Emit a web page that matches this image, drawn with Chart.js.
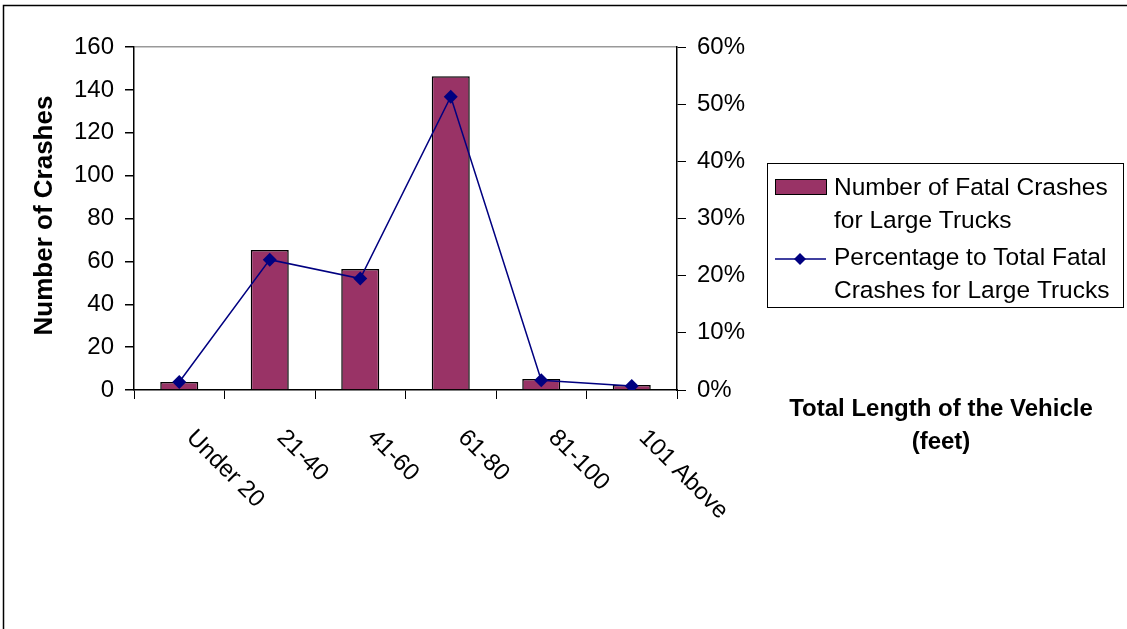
<!DOCTYPE html>
<html>
<head>
<meta charset="utf-8">
<script src="https://cdn.jsdelivr.net/npm/chart.js@4/dist/chart.umd.min.js"></script>
<style>
  html, body { margin: 0; padding: 0; background: #fff; }
  #wrap { position: relative; width: 1127px; height: 629px; }
</style>
</head>
<body>
<div id="wrap"><canvas id="chart" width="1127" height="629"></canvas></div>
<script>
// Daten
const categories = ["Under 20", "21-40", "41-60", "61-80", "81-100", "101 Above"];
const crashCounts = [3.7, 65.3, 56.4, 146.3, 5.1, 2.3];
const crashPercent = [1.4, 22.8, 19.5, 51.3, 1.7, 0.7];
const countTicks = [0, 20, 40, 60, 80, 100, 120, 140, 160];
const percentTicks = [0, 10, 20, 30, 40, 50, 60];

const barLabel = ["Number of Fatal Crashes", "for Large Trucks"];
const lineLabel = ["Percentage to Total Fatal", "Crashes for Large Trucks"];
const yTitle = "Number of Crashes";
const xTitle = ["Total Length of the Vehicle", "(feet)"];

const FONT = "'Liberation Sans', Arial, sans-serif";
const BAR_COLOR = "#993366";
const LINE_COLOR = "#000080";

// Zusatztexte, Legende und Rahmen selbst zeichnen
const extrasPlugin = {
    id: "extras",
    beforeDraw(chart) {
        const ctx = chart.ctx;
        ctx.save();
        ctx.strokeStyle = "#000";
        ctx.lineWidth = 1.5;
        ctx.beginPath();
        ctx.moveTo(3.5, 640);
        ctx.lineTo(3.5, 5.5);
        ctx.lineTo(1127, 5.5);
        ctx.stroke();
        ctx.restore();
    },
    afterDraw(chart) {
        const ctx = chart.ctx;
        const x = chart.scales.x;
        const area = chart.chartArea;
        ctx.save();
        ctx.fillStyle = "#000";

        // schräge Kategorie-Beschriftungen (45° nach unten)
        ctx.font = "24px " + FONT;
        ctx.textAlign = "left";
        ctx.textBaseline = "middle";
        categories.forEach((c, i) => {
            const px = x.getPixelForTick(i);
            ctx.save();
            ctx.translate(px + 11, area.bottom + 44);
            ctx.rotate(Math.PI / 4);
            ctx.fillText(c, 0, 0);
            ctx.restore();
        });

        // Y-Achsentitel
        ctx.save();
        ctx.font = "bold 26px " + FONT;
        ctx.textAlign = "center";
        ctx.translate(45, (area.top + area.bottom) / 2 - 3);
        ctx.rotate(-Math.PI / 2);
        ctx.fillText(yTitle, 0, 0);
        ctx.restore();

        // X-Achsentitel rechts neben dem Diagramm
        ctx.font = "bold 24px " + FONT;
        ctx.textAlign = "center";
        xTitle.forEach((t, i) => ctx.fillText(t, 941, 409 + i * 33));

        // Legende
        ctx.strokeStyle = "#000";
        ctx.lineWidth = 1;
        ctx.strokeRect(767.5, 163.5, 356, 144);
        ctx.fillStyle = BAR_COLOR;
        ctx.fillRect(775.5, 179.5, 51, 15);
        ctx.strokeRect(775.5, 179.5, 51, 15);
        ctx.strokeStyle = LINE_COLOR;
        ctx.lineWidth = 1.5;
        ctx.beginPath();
        ctx.moveTo(775, 259);
        ctx.lineTo(826, 259);
        ctx.stroke();
        ctx.fillStyle = LINE_COLOR;
        ctx.beginPath();
        ctx.moveTo(800, 253);
        ctx.lineTo(806, 259);
        ctx.lineTo(800, 265);
        ctx.lineTo(794, 259);
        ctx.closePath();
        ctx.fill();
        ctx.fillStyle = "#000";
        ctx.font = "24.5px " + FONT;
        ctx.textAlign = "left";
        barLabel.forEach((t, i) => ctx.fillText(t, 834, 188 + i * 33));
        lineLabel.forEach((t, i) => ctx.fillText(t, 834, 258 + i * 33));
        ctx.restore();
    }
};

const chart = new Chart(document.getElementById("chart"), {
    type: "bar",
    data: {
        labels: categories,
        datasets: [{
            type: "line",
            label: lineLabel.join(" "),
            data: crashPercent,
            yAxisID: "y2",
            borderColor: LINE_COLOR,
            backgroundColor: LINE_COLOR,
            borderWidth: 1.5,
            pointStyle: "rectRot",
            pointRadius: 7,
            pointBorderWidth: 0,
            tension: 0,
            order: 0
        }, {
            type: "bar",
            label: barLabel.join(" "),
            data: crashCounts,
            yAxisID: "y",
            backgroundColor: BAR_COLOR,
            borderColor: "#000",
            borderWidth: 1.5,
            categoryPercentage: 1,
            barPercentage: 0.42,
            order: 1
        }]
    },
    options: {
        responsive: false,
        animation: false,
        layout: { padding: { top: 47, left: 0, right: 0, bottom: 0 } },
        plugins: { legend: { display: false }, tooltip: { enabled: false } },
        scales: {
            x: {
                offset: true,
                grid: { offset: true, drawOnChartArea: false, tickLength: 9, color: "#000", tickColor: "#000" },
                border: { color: "#000", width: 1.5 },
                ticks: { display: false },
                afterFit(s) { s.height = 239; }
            },
            y: {
                position: "left",
                min: 0, max: 160,
                afterBuildTicks(s) { s.ticks = countTicks.map(v => ({ value: v })); },
                grid: {
                    color: c => c.tick && c.tick.value === 160 ? "#999" : "rgba(0,0,0,0)",
                    lineWidth: 1.5,
                    tickColor: "#000",
                    tickLength: 9
                },
                border: { color: "#000", width: 1.5 },
                ticks: { color: "#000", font: { family: FONT, size: 24 }, padding: 11 },
                afterFit(s) { s.width = 134; }
            },
            y2: {
                position: "right",
                min: 0, max: 60,
                afterBuildTicks(s) { s.ticks = percentTicks.map(v => ({ value: v })); },
                grid: { drawOnChartArea: false, tickColor: "#000", tickLength: 9 },
                border: { color: "#000", width: 1.5 },
                ticks: { color: "#000", font: { family: FONT, size: 24 }, padding: 11, callback: v => v + "%" },
                afterFit(s) { s.width = 450; }
            }
        }
    },
    plugins: [extrasPlugin]
});
</script>
</body>
</html>
